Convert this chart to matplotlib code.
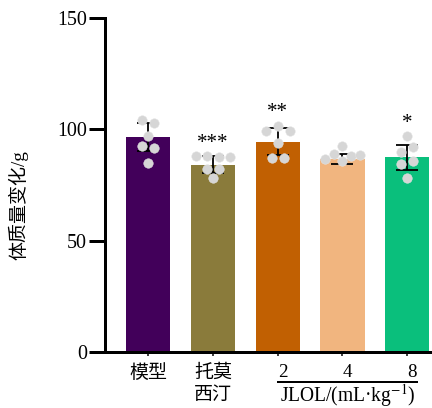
import numpy as np
import matplotlib
matplotlib.use("Agg")
import matplotlib.pyplot as plt
from matplotlib.transforms import ScaledTranslation, blended_transform_factory

plt.rcParams['font.family'] = ['Liberation Serif', 'Noto Sans CJK SC']
plt.rcParams['mathtext.fontset'] = 'stix'

# ---- data ----
groups = ["模型", "托莫\n西汀", "2", "4", "8"]
means = [96.4, 84.2, 94.4, 86.8, 87.5]
sds = [6.3, 3.7, 6.0, 2.3, 5.6]
points = [
    [104.0, 103.0, 97.0, 92.5, 91.5, 85.0],
    [88.0, 88.0, 87.5, 87.5, 82.0, 82.0, 78.0],
    [99.2, 101.5, 99.2, 94.0, 87.2, 87.2],
    [92.5, 86.5, 89.0, 85.7, 88.0, 88.3],
    [97.0, 90.0, 92.0, 84.5, 85.7, 78.2],
]
stars = ["", "***", "**", "", "*"]
colors = ["#42005a", "#8a7b3b", "#c16002", "#f1b57f", "#0abf7c"]
yticks = [0, 50, 100, 150]
y_label = "体质量变化/g"
dose_unit = "JLOL/(mL·kg$^{-1}$)"

# ---- figure ----
fig = plt.figure(figsize=(432 / 72, 408 / 72), dpi=72)
ax = fig.add_axes([105 / 432, 56 / 408, 327 / 432, 334 / 408])

x = np.arange(len(groups))
bar_w = 0.685
ax.bar(x, means, width=bar_w, color=colors, zorder=2)
ax.errorbar(x, means, yerr=sds, fmt='none', ecolor='black', elinewidth=1.8,
            capsize=11, capthick=1.8, zorder=3)

ax.set_xlim(-0.669, 4.385)
ax.set_ylim(0, 150)

# pixel scale for laying out the dot rows
bb = ax.get_window_extent()
xlim = ax.get_xlim()
px_x = bb.width / (xlim[1] - xlim[0])
diam = 9.5
tol = 3.5

for i, vals in enumerate(points):
    vals = np.asarray(vals)
    order = np.argsort(vals, kind='stable')
    rows, cur = [], [order[0]]
    for idx in order[1:]:
        if vals[idx] - vals[cur[0]] <= tol:
            cur.append(idx)
        else:
            rows.append(cur)
            cur = [idx]
    rows.append(cur)
    xs = np.zeros(len(vals))
    for row in rows:
        row = sorted(row)
        n = len(row)
        if n > 1:
            d = min(12.0, (bar_w * px_x - diam) / (n - 1))
        else:
            d = 0
        for k, idx in enumerate(row):
            xs[idx] = i + (k - (n - 1) / 2) * d / px_x
    ax.plot(xs, vals, 'o', ms=diam, color='#d6d6d6', mec='#e4e4e4', mew=0.5,
            zorder=4, clip_on=False)
    if stars[i]:
        top = max(vals.max(), means[i] + sds[i])
        ax.annotate(stars[i], xy=(i, top), xytext=(0, 13), textcoords='offset points',
                    ha='center', va='center', fontsize=21)

# ---- axes styling ----
for s in ['top', 'right']:
    ax.spines[s].set_visible(False)
for s in ['left', 'bottom']:
    ax.spines[s].set_linewidth(3)

ax.set_yticks(yticks)
ax.set_yticklabels([str(t) for t in yticks], fontsize=20)
ax.tick_params(axis='y', length=16, width=3, pad=2)

ax.set_xticks(x)
ax.set_xticklabels(groups, fontsize=19, linespacing=1.45)
ax.tick_params(axis='x', length=4, width=1.5, pad=8)
shift = ScaledTranslation(5 / 72, 0, fig.dpi_scale_trans)
for lab in ax.get_xticklabels()[2:]:
    lab.set_transform(lab.get_transform() + shift)

ax.set_ylabel(y_label, fontsize=19)
ax.yaxis.set_label_coords(-0.235, 0.44)

trans = blended_transform_factory(ax.transData, ax.transAxes)
ax.plot([2.0, 4.15], [-0.089, -0.089], transform=trans, clip_on=False,
        color='black', lw=2)
ax.text(3.08, -0.148, dose_unit, transform=trans, ha='center', va='baseline',
        fontsize=19.5)

fig.savefig("out.png", dpi=72)
